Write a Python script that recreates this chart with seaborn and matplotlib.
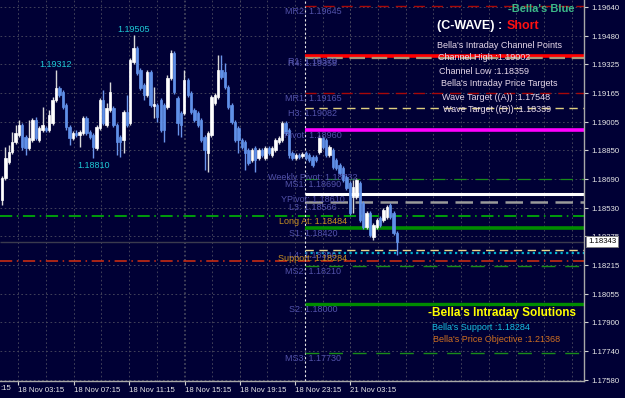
import numpy as np
import pandas as pd
import matplotlib
matplotlib.use('Agg')
import matplotlib.pyplot as plt
import seaborn as sns

# M15-Kerzen, Werte
opens = [1.18575, 1.18697, 1.18785, 1.18840, 1.18895, 1.18934, 1.18989, 1.18923, 1.18862, 1.18906,
         1.19017, 1.18906, 1.18961, 1.18973, 1.18961, 1.19000, 1.19127, 1.19193, 1.19171, 1.19099,
         1.18978, 1.18917, 1.18945, 1.18934, 1.18945, 1.19028, 1.18950, 1.18934, 1.18862, 1.18973,
         1.19127, 1.18989, 1.19072, 1.19083, 1.18989, 1.18923, 1.18906, 1.19061, 1.19000, 1.19337,
         1.19414, 1.19293, 1.19210, 1.19155, 1.19282, 1.19094, 1.19099, 1.19127, 1.19099, 1.19088,
         1.19248, 1.19386, 1.19138, 1.19055, 1.19055, 1.19237, 1.19166, 1.19072, 1.19055, 1.19017,
         1.18923, 1.18834, 1.18934, 1.19110, 1.19144, 1.19293, 1.19282, 1.19199, 1.19099, 1.19006,
         1.18973, 1.18906, 1.18895, 1.18851, 1.18796, 1.18862, 1.18807, 1.18851, 1.18807, 1.18862,
         1.18823, 1.18851, 1.18895, 1.18906, 1.19000, 1.18961, 1.18834, 1.18807, 1.18823, 1.18818,
         1.18834, 1.18823, 1.18812, 1.18812, 1.18840, 1.18917, 1.18906, 1.18823, 1.18851, 1.18796,
         1.18768, 1.18752, 1.18702, 1.18669, 1.18592, 1.18592, 1.18669, 1.18558, 1.18426, 1.18503,
         1.18371, 1.18426, 1.18476, 1.18465, 1.18481, 1.18547, 1.18503, 1.18393]
highs = [1.18708, 1.18868, 1.18879, 1.18950, 1.18989, 1.19017, 1.19000, 1.18934, 1.19017, 1.19028,
         1.19033, 1.18984, 1.19088, 1.18984, 1.19072, 1.19144, 1.19293, 1.19204, 1.19182, 1.19110,
         1.18989, 1.18956, 1.18961, 1.18961, 1.19039, 1.19039, 1.18961, 1.18945, 1.18989, 1.19138,
         1.19182, 1.19110, 1.19226, 1.19094, 1.19000, 1.18934, 1.19072, 1.19155, 1.19359, 1.19486,
         1.19425, 1.19304, 1.19221, 1.19293, 1.19293, 1.19199, 1.19110, 1.19138, 1.19110, 1.19265,
         1.19403, 1.19397, 1.19149, 1.19066, 1.19293, 1.19248, 1.19177, 1.19083, 1.19066, 1.19028,
         1.18934, 1.18956, 1.19155, 1.19166, 1.19375, 1.19375, 1.19331, 1.19210, 1.19110, 1.19017,
         1.18984, 1.18917, 1.18906, 1.18862, 1.18862, 1.18873, 1.18862, 1.18862, 1.18873, 1.18873,
         1.18873, 1.18917, 1.18928, 1.19011, 1.19011, 1.18973, 1.18845, 1.18834, 1.18834, 1.18840,
         1.18845, 1.18834, 1.18823, 1.18823, 1.18934, 1.18928, 1.18917, 1.18879, 1.18862, 1.18807,
         1.18779, 1.18763, 1.18713, 1.18680, 1.18685, 1.18697, 1.18680, 1.18569, 1.18514, 1.18514,
         1.18448, 1.18476, 1.18487, 1.18531, 1.18547, 1.18558, 1.18514, 1.18404]
lows = [1.18547, 1.18685, 1.18774, 1.18829, 1.18884, 1.18923, 1.18851, 1.18823, 1.18851, 1.18895,
        1.18906, 1.18895, 1.18950, 1.18950, 1.18950, 1.18989, 1.19116, 1.19144, 1.19077, 1.18961,
        1.18879, 1.18906, 1.18923, 1.18868, 1.18934, 1.18934, 1.18912, 1.18807, 1.18851, 1.18961,
        1.18989, 1.18978, 1.19061, 1.18978, 1.18823, 1.18812, 1.18834, 1.18978, 1.18989, 1.19326,
        1.19265, 1.19182, 1.19127, 1.19144, 1.19088, 1.19028, 1.19006, 1.18950, 1.18895, 1.19077,
        1.19237, 1.19160, 1.18934, 1.18923, 1.19044, 1.19144, 1.19050, 1.19006, 1.18978, 1.18895,
        1.18741, 1.18730, 1.18923, 1.19099, 1.19133, 1.19243, 1.19188, 1.19077, 1.18995, 1.18895,
        1.18834, 1.18857, 1.18741, 1.18768, 1.18785, 1.18730, 1.18796, 1.18812, 1.18796, 1.18823,
        1.18812, 1.18840, 1.18884, 1.18895, 1.18934, 1.18807, 1.18796, 1.18796, 1.18801, 1.18807,
        1.18796, 1.18785, 1.18757, 1.18785, 1.18829, 1.18857, 1.18812, 1.18812, 1.18746, 1.18741,
        1.18713, 1.18674, 1.18630, 1.18492, 1.18503, 1.18581, 1.18454, 1.18415, 1.18415, 1.18371,
        1.18354, 1.18415, 1.18426, 1.18454, 1.18470, 1.18470, 1.18382, 1.18271]
closes = [1.18697, 1.18807, 1.18840, 1.18895, 1.18945, 1.18989, 1.18868, 1.18862, 1.18917, 1.19017,
          1.18917, 1.18973, 1.18989, 1.18961, 1.19044, 1.19127, 1.19193, 1.19155, 1.19088, 1.18978,
          1.18917, 1.18945, 1.18934, 1.18950, 1.19028, 1.18945, 1.18923, 1.18868, 1.18978, 1.19127,
          1.19000, 1.19083, 1.19171, 1.18989, 1.18895, 1.18895, 1.19061, 1.18989, 1.19348, 1.19414,
          1.19276, 1.19193, 1.19155, 1.19282, 1.19099, 1.19105, 1.19033, 1.18961, 1.18961, 1.19248,
          1.19386, 1.19171, 1.19000, 1.18989, 1.19237, 1.19155, 1.19061, 1.19017, 1.18989, 1.18906,
          1.18851, 1.18945, 1.19144, 1.19155, 1.19293, 1.19254, 1.19199, 1.19088, 1.19006, 1.18906,
          1.18906, 1.18868, 1.18834, 1.18779, 1.18851, 1.18796, 1.18851, 1.18823, 1.18862, 1.18834,
          1.18862, 1.18906, 1.18917, 1.19000, 1.18945, 1.18823, 1.18807, 1.18823, 1.18812, 1.18829,
          1.18807, 1.18796, 1.18768, 1.18796, 1.18917, 1.18868, 1.18823, 1.18868, 1.18757, 1.18752,
          1.18724, 1.18685, 1.18641, 1.18503, 1.18647, 1.18685, 1.18465, 1.18426, 1.18503, 1.18382,
          1.18437, 1.18465, 1.18437, 1.18520, 1.18536, 1.18481, 1.18393, 1.18343]

# Hoch/Tief-Markierungen
peak_index = [16, 39, 27]
peak_text = ["1.19312", "1.19505", "1.18810"]
peak_side = ["high", "high", "low"]

# Achsen
price_ticks = [1.19640, 1.19480, 1.19325, 1.19165, 1.19005, 1.18850, 1.18690,
               1.18530, 1.18375, 1.18215, 1.18055, 1.17900, 1.17740, 1.17580]
time_ticks = [4.8, 21.2, 37.6, 54.1, 70.5, 86.8, 103.1]
time_labels = ["18 Nov 03:15", "18 Nov 07:15", "18 Nov 11:15", "18 Nov 15:15",
               "18 Nov 19:15", "18 Nov 23:15", "21 Nov 03:15"]
current_price = 1.18343

# Pivot-Linien (ab Tagestrenner)
level_prices = [1.19645, 1.19370, 1.19358, 1.19165, 1.19082, 1.18960, 1.18690, 1.18610,
                1.18566, 1.18420, 1.18300, 1.18284, 1.18210, 1.18000, 1.17730]
level_colors = ['#a80808', '#ff0000', '#a89878', '#a80808', '#e0d080', '#ff00ff', '#188c18', '#ffffff',
                '#9a9a9a', '#008c00', '#e8d890', '#00b0d0', '#188c18', '#008c00', '#188c18']
level_widths = [1.0, 2.6, 1.6, 1.0, 1.0, 2.6, 0.9, 2.2, 1.8, 2.6, 1.0, 1.6, 1.0, 2.4, 1.0]
level_styles = [(0, (8, 5)), '-', (0, (7, 3)), (0, (8, 5)), (0, (6, 4)), '-', (0, (10, 7)), '-',
                (0, (7, 3)), '-', (0, (6, 4)), (0, (1, 1.5)), (0, (10, 7)), '-', (0, (10, 7))]

# Linien über die ganze Breite
full_prices = [1.18484, 1.18240]
full_colors = ['#00c800', '#d83010']
full_styles = [(0, (8, 3, 1, 3)), (0, (8, 3, 1, 3))]

# Beschriftungen der Pivots
label_names = ["MR2", "R4", "R1", "MR1", "H3", "Pivot", "Weekly Pivot", "MS1", "YPivot",
               "L3", "Long At", "S1", "L4", "Support", "MS2", "S2", "MS3"]
label_values = [1.19645, 1.19358, 1.19370, 1.19165, 1.19082, 1.18960, 1.18732, 1.18690, 1.18610,
                1.18566, 1.18484, 1.18420, 1.18300, 1.18284, 1.18210, 1.18000, 1.17730]

channel_high = 1.19002
channel_low = 1.18359
wave_a = 1.17548
wave_b = 1.18339
bella_support = 1.18284
bella_objective = 1.21368

bg = '#000035'
sns.set_theme(style='dark', rc={'axes.facecolor': bg, 'figure.facecolor': bg})
plt.rcParams['font.family'] = ['Liberation Sans', 'DejaVu Sans']

df = pd.DataFrame({'open': opens, 'high': highs, 'low': lows, 'close': closes})
df['x'] = np.arange(len(df))
up = df['close'] >= df['open']

W, H = 625, 398
fig = plt.figure(figsize=(6.25, 3.98), dpi=100)
ax = fig.add_axes([0, 17 / H, 584 / W, 381 / H])
ax.set_facecolor(bg)

sep = 89.8
xmin, xmax = -0.6, 172.4

# Gitter
ax.set_yticks(price_ticks)
ax.set_yticklabels([f"{p:.5f}" for p in price_ticks])
ax.set_xticks(time_ticks)
ax.set_xticklabels(time_labels, ha='left')
ax.set_xticks(np.arange(time_ticks[0], xmax, 8.2), minor=True)
ax.grid(True, which='both', color='#4c4c60', ls=(0, (2, 3)), lw=0.6)
ax.set_axisbelow(True)

# Linien
for p, c, s in zip(full_prices, full_colors, full_styles):
    ax.hlines(p, xmin, xmax, colors=c, linestyles=[s], lw=1.1, zorder=1.5)
ax.hlines(current_price, xmin, xmax, colors='#3a3a4e', lw=1.0, zorder=1.5)
ax.axvline(sep, color='#e8e8e8', ls=(0, (2, 2)), lw=0.8, zorder=1.5)
for p, c, w, s in zip(level_prices, level_colors, level_widths, level_styles):
    ax.hlines(p, sep, xmax, colors=c, linestyles=[s], lw=w, zorder=1.6)

# Kerzen
ax.vlines(df.x[up], df.low[up], df.high[up], color='#d8d8d8', lw=1.0, zorder=3)
ax.vlines(df.x[~up], df.low[~up], df.high[~up], color='#6a94ea', lw=1.0, zorder=3)
ax.bar(df.x[up], (df.close - df.open)[up], bottom=df.open[up], width=0.7,
       color='white', edgecolor='white', lw=0.5, zorder=3.1)
ax.bar(df.x[~up], (df.close - df.open)[~up], bottom=df.open[~up], width=0.7,
       color='#6090e8', edgecolor='#6090e8', lw=0.5, zorder=3.1)

# Grenzen erst nach Ticks und Balken setzen
ax.set_xlim(xmin, xmax)
ax.set_ylim(1.17575, 1.19679)

# Hoch/Tief Text
for i, t, side in zip(peak_index, peak_text, peak_side):
    if side == 'high':
        ax.annotate(t, (i, highs[i]), xytext=(0, 0.5), textcoords='offset points',
                    ha='center', va='bottom', color='#1ec8d4', fontsize=6.5, zorder=5)
    else:
        ax.annotate(t, (i, lows[i]), xytext=(0, -2), textcoords='offset points',
                    ha='center', va='top', color='#1ec8d4', fontsize=6.5, zorder=5)

# Pivot-Texte
for name, v in zip(label_names, label_values):
    col = '#c89020' if name in ("Long At", "Support") else '#5252aa'
    ax.annotate(f"{name}: {v:.5f}", (92.1, v), xytext=(0, -4), textcoords='offset points',
                ha='center', va='center', color=col, fontsize=6.5, zorder=4)

# Achsen-Stil
ax.yaxis.tick_right()
ax.tick_params(axis='y', which='major', direction='out', length=3, width=0.8, color='#d0d0d0',
               labelsize=5.6, labelcolor='#e8e8e8', pad=2, right=True, left=False)
ax.tick_params(axis='x', which='major', direction='out', length=3, width=0.8, color='#d0d0d0',
               labelsize=5.6, labelcolor='#e8e8e8', pad=1.5, bottom=True)
ax.tick_params(axis='x', which='minor', length=0)
for s in ['top', 'left']:
    ax.spines[s].set_visible(False)
for s in ['bottom', 'right']:
    ax.spines[s].set_visible(True)
    ax.spines[s].set_color('#a8a8a8')
    ax.spines[s].set_linewidth(1.0)

ax.annotate(f"{current_price:.5f}", (1.0, current_price), xycoords=('axes fraction', 'data'),
            xytext=(3, 0), textcoords='offset points', ha='left', va='center', fontsize=5.6,
            color='black', zorder=10,
            bbox=dict(boxstyle='square,pad=0.25', fc='white', ec='#808080', lw=0.6))
fig.text(0.0, 1 - 389 / H, ":15", ha='left', va='center', fontsize=5.6, color='#e8e8e8')


def px(x, y):
    return x / W, 1 - y / H


# Textblock oben rechts
fig.text(*px(575, 9), "-Bella's Blue", ha='right', va='center', fontsize=8,
         fontweight='bold', color='#3cb888')
fig.text(*px(437, 26), "(C-WAVE) :", ha='left', va='center', fontsize=9,
         fontweight='bold', color='white')
fig.text(*px(507, 26), "Short", ha='left', va='center', fontsize=9,
         fontweight='bold', color='#ff1010')
info_col = '#e6d8ea'
fig.text(*px(437, 45), "Bella's Intraday Channel Points", ha='left', va='center', fontsize=6.5, color=info_col)
fig.text(*px(438, 58), f"Channel High :{channel_high:.5f}", ha='left', va='center', fontsize=6.5, color=info_col)
fig.text(*px(439, 71), f"Channel Low :{channel_low:.5f}", ha='left', va='center', fontsize=6.5, color=info_col)
fig.text(*px(441, 83), "Bella's Intraday Price Targets", ha='left', va='center', fontsize=6.5, color=info_col)
fig.text(*px(442, 97), f"Wave Target ((A)) :{wave_a:.5f}", ha='left', va='center', fontsize=6.5, color=info_col)
fig.text(*px(443, 109), f"Wave Target ((B)) :{wave_b:.5f}", ha='left', va='center', fontsize=6.5, color=info_col)

# Textblock unten rechts
fig.text(*px(428, 313), "-Bella's Intraday Solutions", ha='left', va='center', fontsize=8.5,
         fontweight='bold', color='#ffff00')
fig.text(*px(432, 327), f"Bella's Support :{bella_support:.5f}", ha='left', va='center',
         fontsize=6.5, color='#18c0e0')
fig.text(*px(433, 340), f"Bella's Price Objective :{bella_objective:.5f}", ha='left', va='center',
         fontsize=6.5, color='#d07020')

fig.savefig('out.png', dpi=100, facecolor=bg)
